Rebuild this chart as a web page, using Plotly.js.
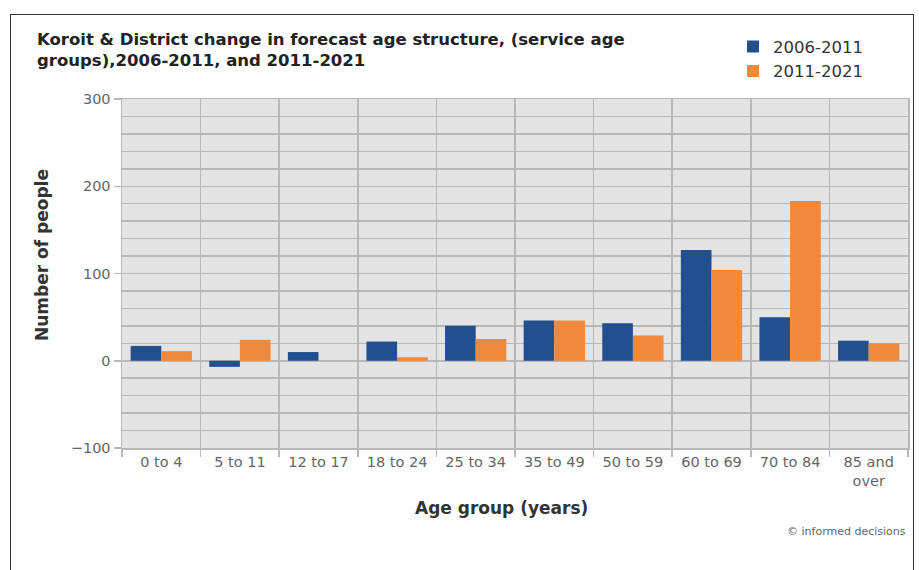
<!DOCTYPE html>
<html>
<head>
<meta charset="utf-8">
<script src="https://cdn.plot.ly/plotly-3.0.1.min.js"></script>
<style>
  html, body { margin: 0; padding: 0; background: #ffffff; }
  #chart { position: absolute; left: 0; top: 0; width: 919px; height: 570px; }
  #frame { position: absolute; left: 10px; top: 14px; width: 902px; height: 600px;
           border: 1px solid #333; pointer-events: none; }
</style>
</head>
<body>
<div id="chart"></div>
<div id="frame"></div>
<script>
// Service age groups
const ageGroups = ["0 to 4", "5 to 11", "12 to 17", "18 to 24", "25 to 34",
                   "35 to 49", "50 to 59", "60 to 69", "70 to 84", "85 and<br>over"];
// Change in number of people per period
const change2006to2011 = [17, -7, 10, 22, 40, 46, 43, 127, 50, 23];
const change2011to2021 = [11, 24, 0, 4, 25, 46, 29, 104, 183, 20];

const seriesNames = ["2006-2011", "2011-2021"];
const yTicks = [-100, 0, 100, 200, 300];

const FONT = "DejaVu Sans, Verdana, sans-serif";
const GRID = "#b8b8b8";

const traces = [
  { type: "bar", name: seriesNames[0], x: ageGroups, y: change2006to2011,
    marker: { color: "#22508e" }, hoverinfo: "x+y+name" },
  { type: "bar", name: seriesNames[1], x: ageGroups, y: change2011to2021,
    marker: { color: "#f0893b" }, hoverinfo: "x+y+name" }
];

const layout = {
  width: 919, height: 570,
  margin: { l: 122, r: 11, t: 99, b: 122 },
  paper_bgcolor: "rgba(0,0,0,0)",
  plot_bgcolor: "#e4e4e4",
  font: { family: FONT, color: "#555" },
  barmode: "group",
  bargap: 0.22,
  bargroupgap: 0,
  title: {
    text: "Koroit & District change in forecast age structure, (service age<br>groups),2006-2011, and 2011-2021",
    font: { family: FONT, size: 16.5, color: "#222", weight: "bold" },
    xref: "container", yref: "container",
    x: 37 / 919, xanchor: "left",
    y: 1 - 45 / 570, yanchor: "top"
  },
  showlegend: true,
  legend: {
    x: (733 - 122) / 786, xanchor: "left", y: 1.2, yanchor: "top",
    bgcolor: "rgba(0,0,0,0)",
    font: { family: FONT, size: 16.5, color: "#333" },
    itemclick: false
  },
  xaxis: {
    type: "category",
    tickson: "boundaries",
    showgrid: true, gridcolor: GRID, gridwidth: 1.5,
    ticks: "outside", ticklen: 7, tickcolor: GRID, tickwidth: 1.5,
    showline: true, linecolor: GRID, linewidth: 1.5, mirror: true,
    tickfont: { family: FONT, size: 14.5, color: "#666" }
  },
  yaxis: {
    range: [-100, 300],
    tickvals: yTicks,
    showgrid: true, gridcolor: GRID, gridwidth: 1.5,
    zeroline: true, zerolinecolor: GRID, zerolinewidth: 1.5,
    minor: { dtick: 20, showgrid: true, gridcolor: GRID, gridwidth: 1.5 },
    ticks: "outside", ticklen: 7, tickcolor: GRID, tickwidth: 1.5,
    showline: true, linecolor: GRID, linewidth: 1.5, mirror: true,
    tickfont: { family: FONT, size: 14.5, color: "#666" },
    fixedrange: true
  },
  annotations: [
    { text: "Number of people", textangle: -90,
      xref: "paper", yref: "paper", x: -80 / 786, y: (448 - 255) / 349,
      xanchor: "center", yanchor: "middle", showarrow: false,
      font: { family: FONT, size: 17, color: "#333", weight: "bold" } },
    { text: "Age group (years)",
      xref: "paper", yref: "paper", x: (501 - 122) / 786, y: -60 / 349,
      xanchor: "center", yanchor: "middle", showarrow: false,
      font: { family: FONT, size: 17, color: "#333", weight: "bold" } },
    { text: "© informed decisions",
      xref: "paper", yref: "paper", x: 1, y: -83 / 349,
      xanchor: "right", yanchor: "middle", showarrow: false,
      font: { family: FONT, size: 11, color: "#666" } }
  ]
};

Plotly.newPlot("chart", traces, layout, { displayModeBar: false, staticPlot: true });
</script>
</body>
</html>
